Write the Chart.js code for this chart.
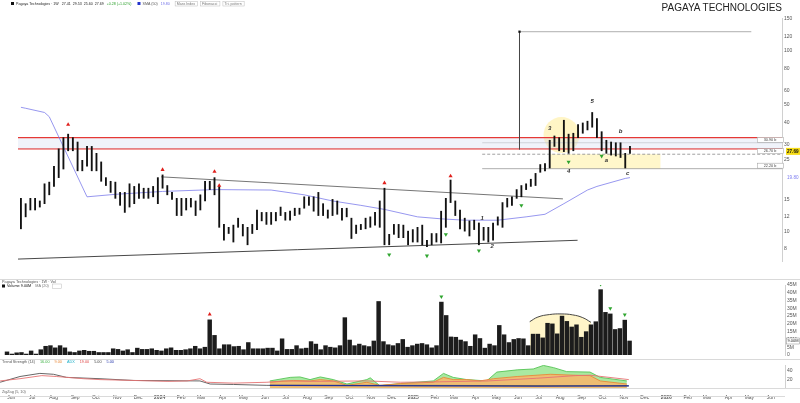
<!DOCTYPE html>
<html>
<head>
<meta charset="utf-8">
<title>Pagaya Technologies</title>
<script src="https://cdn.jsdelivr.net/npm/chart.js@4.4.1/dist/chart.umd.min.js"></script>
<style>
  html, body { margin: 0; padding: 0; background: #fff; overflow: hidden; }
  #wrap { position: relative; width: 800px; height: 403px; overflow: hidden; font-family: Arial, "Liberation Sans", sans-serif; }
  canvas { position: absolute; left: 0; }
  #priceChart { top: 0; }
  #volChart { top: 280px; }
  #indChart { top: 360px; }
  .sep { position: absolute; left: 0; width: 800px; height: 1px; background: #d9d9d9; }
  #title { position: absolute; right: 18px; top: 2px; font-size: 10px; color: #222; }
</style>
</head>
<body>
<div id="wrap">
  <canvas id="priceChart" width="800" height="279"></canvas>
  <div class="sep" style="top:279px"></div>
  <canvas id="volChart" width="800" height="80"></canvas>
  <div class="sep" style="top:359px"></div>
  <canvas id="indChart" width="800" height="43"></canvas>
  <div id="title">PAGAYA TECHNOLOGIES</div>
</div>
<script>
// weekly bars, index 0 = week of 20 May 2023
const weekHigh = [
  15.2, 14.2, 15.2, 15.2, 14.7, 18.3, 18.7, 22.9, 28.6, 33.0,
  34.5, 33.0, 31.2, 24.7, 29.5, 29.5, 27.0, 24.2, 19.8, 18.9,
  18.7, 16.4, 16.4, 18.3, 17.7, 18.3, 17.3, 17.3, 17.7, 19.8,
  20.5, 17.9, 16.4, 15.2, 15.2, 15.2, 15.2, 14.7, 15.9, 18.9,
  18.9, 19.8, 17.7, 10.9, 10.5, 10.8, 11.8, 10.9, 10.5, 10.9,
  13.1, 12.7, 12.7, 12.7, 12.7, 13.6, 12.7, 12.9, 13.4, 13.4,
  15.5, 15.5, 15.5, 16.4, 14.2, 13.1, 15.0, 14.7, 13.4, 13.4,
  11.8, 10.8, 10.9, 11.8, 12.0, 12.7, 14.7, 17.3, 9.6, 10.9,
  10.9, 10.8, 10.0, 10.2, 10.5, 10.8, 8.9, 9.7, 9.7, 12.9,
  15.2, 19.2, 14.7, 13.1, 11.8, 11.4, 11.5, 11.1, 10.5, 10.5,
  11.1, 12.0, 14.4, 15.2, 15.5, 17.0, 17.9, 18.3, 19.4, 20.9,
  23.4, 23.7, 31.9, 33.7, 33.0, 41.2, 34.5, 34.9, 39.0, 39.8,
  40.7, 45.5, 42.1, 35.6, 31.9, 31.2, 30.9, 30.9, 27.0, 29.5
];
const weekLow = [
  10.3, 12.0, 13.1, 13.1, 13.6, 14.2, 15.9, 17.7, 19.8, 22.1,
  27.9, 27.9, 21.6, 21.6, 22.9, 21.6, 21.6, 18.9, 17.9, 16.4,
  15.2, 13.9, 12.7, 13.6, 14.2, 15.2, 15.2, 15.2, 15.5, 14.2,
  17.3, 15.9, 15.0, 12.2, 12.2, 13.1, 13.6, 12.2, 13.1, 14.7,
  17.0, 15.9, 10.5, 8.9, 9.7, 8.7, 10.5, 9.4, 8.4, 9.7,
  10.2, 11.4, 10.9, 10.9, 11.4, 12.2, 11.5, 11.5, 12.2, 12.4,
  13.4, 13.9, 12.9, 12.2, 12.2, 11.8, 12.2, 12.4, 11.5, 12.0,
  9.1, 9.7, 10.2, 10.3, 10.5, 10.8, 10.5, 8.4, 8.4, 9.6,
  9.2, 9.2, 8.4, 8.7, 8.7, 8.4, 8.2, 8.4, 8.7, 8.6,
  10.5, 14.4, 12.2, 10.3, 10.0, 9.4, 10.2, 8.4, 8.9, 8.7,
  8.9, 10.8, 10.5, 13.6, 13.9, 15.2, 15.5, 17.0, 17.7, 17.9,
  21.2, 21.6, 22.4, 29.5, 27.9, 27.6, 27.0, 27.9, 33.0, 34.9,
  36.4, 37.7, 33.0, 27.9, 27.0, 26.4, 26.1, 25.6, 22.4, 27.0
];
// weekly volume, millions
const weekVolume = [
  2.0, 0.6, 1.4, 1.6, 0.6, 2.6, 0.6, 3.4, 5.6, 6.0,
  4.6, 6.0, 4.6, 2.0, 1.6, 2.6, 3.0, 2.4, 2.4, 1.6,
  1.6, 1.6, 4.0, 3.6, 2.6, 3.4, 1.6, 4.4, 3.6, 3.6,
  4.0, 3.0, 2.6, 4.0, 4.6, 3.0, 3.0, 3.4, 4.0, 5.6,
  4.0, 5.0, 22.6, 12.6, 4.0, 6.6, 6.6, 5.4, 5.6, 3.4,
  8.0, 4.0, 4.0, 4.0, 4.4, 4.4, 2.6, 10.4, 3.6, 3.6,
  6.0, 4.0, 4.4, 8.6, 7.0, 3.4, 6.0, 5.0, 4.6, 6.0,
  24.0, 9.6, 6.0, 7.0, 6.0, 5.4, 9.0, 34.4, 8.6, 6.6,
  6.0, 7.4, 10.0, 5.0, 6.0, 7.0, 7.4, 6.6, 4.6, 6.0,
  34.0, 25.4, 11.6, 11.4, 9.6, 8.6, 5.6, 13.0, 10.6, 4.4,
  7.0, 6.0, 19.0, 13.0, 8.0, 10.0, 10.6, 10.4, 6.0, 13.4,
  13.4, 11.0, 20.4, 20.0, 13.6, 25.0, 21.6, 18.0, 19.4, 11.4,
  15.0, 19.4, 21.4, 42.0, 27.4, 26.4, 16.4, 17.0, 22.4, 9.0
];
const lastClose = 27.69;

// moving average (sampled where it bends)
const maWeeks = [0, 1, 5, 6, 14, 20, 30, 41, 53, 60, 66, 72, 77, 84, 89, 94, 101, 107, 111, 115, 120, 122, 128, 129];
const maValues = [48.6, 48.0, 45.5, 43.1, 15.5, 16.0, 16.6, 17.0, 16.9, 15.9, 14.7, 13.9, 13.2, 12.0, 11.7, 11.5, 11.5, 12.0, 12.4, 14.2, 16.9, 17.7, 19.6, 19.8];

// signals
const redMarkWeeks = [10, 30, 41, 42, 77, 91];
const redMarkValues = [39.0, 21.9, 21.4, 17.9, 18.5, 20.2];
const greenMarkWeeks = [78, 86, 90, 97, 106, 116, 123];
const greenMarkValues = [7.4, 7.3, 9.6, 7.8, 13.9, 24.2, 26.1];
const volRedWeeks = [42];
const volGreenWeeks = [90, 123, 125, 128];

// wave count
const waveWeeks = [97.7, 99.8, 112, 116, 121, 124, 127, 128.5];
const waveValues = [11.8, 8.2, 37.3, 21.4, 52.5, 24.7, 35.9, 20.9];
const waveText = ['1', '2', '3', '4', '5', 'a', 'b', 'c'];

// drawn levels
const redLevels = [33.0, 28.6];
const grayLevels = [30.9, 26.7, 22.2];
const grayFrom = 97.7;
const zoneWeeks = [111.8, 135.5];
const zoneValues = [26.7, 22.2];
const upperTrend = { weeks: [29.7, 114.8], values: [20.0, 15.1] };
const lowerTrend = { weeks: [-0.62, 117.9], values: [7.0, 8.9] };
const mmWeek = 105.6, mmFrom = 28.3, mmTop = 127.6, mmEnd = 154.7;
const circleWeek = 114.5, circleValue = 34.1;
const arcWeeks = [108.3, 110, 112.4, 114.8, 117.2, 119.3, 121];
const arcVolume = [21.4, 24.4, 26.0, 26.4, 25.8, 24.0, 21.0];

// lower indicator
const redIdx = [-0.6, 3.5, 8, 11, 16.6, 20, 27, 34, 38, 40.6, 42, 47.5, 54.4, 57.8, 64.7, 75, 82, 90, 100, 110, 118, 121, 129];
const redVal = [16, 21, 28, 26, 21, 19, 17, 15, 16, 21, 13, 11, 13, 16, 15, 16, 13, 14, 16, 22, 28, 29, 19];
const darkIdx = [-0.6, 3.5, 7.6, 10.4, 13.1, 20, 27, 40.6, 42.7, 47.5, 54.4, 82, 129];
const darkVal = [13, 26, 33, 31, 24, 21, 17, 16, 9, 8, 6, 6, 5];
const greenIdx = [55, 59.2, 61.2, 63.3, 65.4, 68.1, 70.9, 75, 75.7, 77.7, 81.9, 88.7, 90.8, 92.8, 95.6, 99.7, 101.8, 106, 109.3, 111.4, 113.5, 116.2, 121, 123.1, 128.6];
const greenVal = [16, 24, 25, 19, 25, 19, 9, 19, 23, 5, 10, 16, 33, 24, 19, 16, 36, 41, 43, 51, 46, 37, 36, 24, 16];
const orangeIdx = [55, 59.9, 63.3, 65.4, 68.1, 70.9, 75, 77.7, 81.9, 88.7, 90.8, 92.8, 95.6, 98.3, 101.1, 106, 112.8, 117.5, 121, 123.1, 128.6];
const orangeVal = [13, 17, 16, 19, 16, 6, 13, 6, 10, 13, 24, 19, 19, 16, 21, 26, 31, 29, 28, 16, 9];
const blueIdx = [55, 90, 110, 129];
const blueVal = [6, 5, 4, 5];

// axes
const priceTicks = [150, 120, 100, 80, 60, 50, 40, 30, 25, 15, 12, 10, 8];
const indTicks = [20, 40];
const tickDates = [
  '2023-06-01', '2023-07-01', '2023-08-01', '2023-09-01', '2023-10-01', '2023-11-01', '2023-12-01',
  '2024-01-01', '2024-02-01', '2024-03-01', '2024-04-01', '2024-05-01', '2024-06-01', '2024-07-01',
  '2024-08-01', '2024-09-01', '2024-10-01', '2024-11-01', '2024-12-01',
  '2025-01-01', '2025-02-01', '2025-03-01', '2025-04-01', '2025-05-01', '2025-06-01', '2025-07-01',
  '2025-08-01', '2025-09-01', '2025-10-01', '2025-11-01', '2025-12-01',
  '2026-01-01', '2026-02-01', '2026-03-01', '2026-04-01', '2026-05-01', '2026-06-01'
];
const tickLabels = [
  'Jun', 'Jul', 'Aug', 'Sep', 'Oct', 'Nov', 'Dec',
  '2024', 'Feb', 'Mar', 'Apr', 'May', 'Jun', 'Jul', 'Aug', 'Sep', 'Oct', 'Nov', 'Dec',
  '2025', 'Feb', 'Mar', 'Apr', 'May', 'Jun', 'Jul', 'Aug', 'Sep', 'Oct', 'Nov', 'Dec',
  '2026', 'Feb', 'Mar', 'Apr', 'May', 'Jun'
];
const xMin = -0.62, xMax = 161.2;

const weekOf = s => (Date.parse(s) - Date.parse('2023-05-20')) / 6048e5;
const pts = (xs, ys) => xs.map((x, k) => ({ x, y: ys[k] }));
const hline = (v, from, to) => [{ x: from, y: v }, { x: to, y: v }];
const tiny = (size, weight) => `${weight || 'normal'} ${size}px Arial`;

const lineDs = (data, color, width, order, extra) => Object.assign({
  type: 'line', data, borderColor: color, borderWidth: width, pointRadius: 0, fill: false, order
}, extra || {});

const xHidden = { type: 'linear', min: xMin, max: xMax, display: false, offset: false };
const rightAxis = extra => Object.assign({
  position: 'right',
  afterFit: s => { s.width = 15; },
  grid: { display: false, drawTicks: false },
  border: { display: true, color: '#d0d0d0' },
  ticks: { font: { size: 5, family: 'Arial' }, color: '#555', padding: 2, autoSkip: false }
}, extra);
const common = {
  responsive: false, animation: false, events: [], devicePixelRatio: 1,
  plugins: { legend: { display: false }, tooltip: { enabled: false } }
};

// writes coloured text pieces one after another
function textRow(ctx, x0, y0, parts) {
  let px = x0;
  parts.forEach(([t, c, gap]) => {
    ctx.fillStyle = c;
    ctx.fillText(t, px, y0);
    px += ctx.measureText(t).width + (gap === undefined ? 3 : gap);
  });
  return px;
}

// text on the price panel
const priceText = {
  id: 'priceText',
  afterDraw(chart) {
    const { ctx, scales: { x, y } } = chart;
    ctx.save();
    ctx.textBaseline = 'middle';
    // header
    ctx.fillStyle = '#111';
    ctx.fillRect(11, 2, 3, 3);
    ctx.font = tiny(3.6);
    let px = textRow(ctx, 16, 3.6, [
      ['Pagaya Technologies · 1W', '#222'], ['27.41  29.53  25.60  ' + lastClose.toFixed(2), '#222'],
      ['+0.28 (+1.02%)', '#2ca02c', 6]
    ]);
    ctx.fillStyle = '#2233cc';
    ctx.fillRect(px, 2, 3, 3);
    px = textRow(ctx, px + 5, 3.6, [['SMA (50)', '#555'], [maValues[maValues.length - 1].toFixed(2), '#6f6fe8', 5]]);
    ctx.strokeStyle = '#bbb';
    ctx.lineWidth = 0.5;
    ['Mass Index', 'Fibonacci', 'Tri. pattern'].forEach(t => {
      const w = ctx.measureText(t).width + 4;
      ctx.strokeRect(px + 0.5, 1.5, w, 4.5);
      ctx.fillStyle = '#777';
      ctx.fillText(t, px + 2, 3.8);
      px += w + 3;
    });
    // wave count
    ctx.font = 'italic ' + tiny(6, 'bold');
    ctx.fillStyle = '#333';
    ctx.textAlign = 'center';
    waveWeeks.forEach((w, k) => ctx.fillText(waveText[k], x.getPixelForValue(w), y.getPixelForValue(waveValues[k])));
    // level boxes
    ctx.font = tiny(3.8);
    grayLevels.forEach(v => {
      const py = y.getPixelForValue(v);
      ctx.fillStyle = '#fff';
      ctx.fillRect(757, py - 5.5, 26, 5);
      ctx.strokeStyle = '#999';
      ctx.strokeRect(757.5, py - 5.5, 26, 5);
      ctx.fillStyle = '#444';
      ctx.fillText(v.toFixed(2) + ' b', 770, py - 2.9);
    });
    // last price and average on the axis
    const pc = y.getPixelForValue(lastClose);
    ctx.fillStyle = '#f6dc16';
    ctx.fillRect(786, pc - 3.5, 14, 7);
    ctx.fillStyle = '#111';
    ctx.font = tiny(4.6, 'bold');
    ctx.textAlign = 'left';
    ctx.fillText(lastClose.toFixed(2), 787, pc + 0.2);
    const maLast = maValues[maValues.length - 1];
    ctx.fillStyle = '#7d7df0';
    ctx.font = tiny(4.6);
    ctx.fillText(maLast.toFixed(2), 787, y.getPixelForValue(maLast));
    ctx.restore();
  }
};

new Chart(document.getElementById('priceChart'), {
  type: 'bar',
  data: {
    datasets: [
      { type: 'scatter', data: pts(redMarkWeeks, redMarkValues), pointStyle: 'triangle', pointRadius: 2.4,
        pointBackgroundColor: '#e0201c', pointBorderWidth: 0, order: 0 },
      { type: 'scatter', data: pts(greenMarkWeeks, greenMarkValues), pointStyle: 'triangle', pointRotation: 180,
        pointRadius: 2.4, pointBackgroundColor: '#2fa52f', pointBorderWidth: 0, order: 0 },
      { type: 'scatter', data: [{ x: mmWeek, y: mmTop }], pointStyle: 'rect', pointRadius: 1.6,
        pointBackgroundColor: '#111', pointBorderWidth: 0, order: 0 },
      { data: weekHigh.map((h, i) => ({ x: i, y: [weekLow[i], h] })), backgroundColor: '#111',
        barThickness: 1.2, order: 1 },
      lineDs(pts(maWeeks, maValues), 'rgba(125,125,235,0.8)', 1, 2),
      lineDs(pts(upperTrend.weeks, upperTrend.values), '#666', 0.9, 2),
      lineDs(pts(lowerTrend.weeks, lowerTrend.values), '#333', 0.9, 2),
      lineDs([{ x: mmWeek, y: mmFrom }, { x: mmWeek, y: mmTop }], '#444', 1, 2),
      lineDs(hline(mmTop, mmWeek, mmEnd), '#999', 0.8, 2),
      lineDs(hline(redLevels[0], xMin, xMax), '#e53935', 1.1, 4,
        { fill: { target: { value: redLevels[1] } }, backgroundColor: 'rgba(205,215,240,0.3)' }),
      lineDs(hline(redLevels[1], xMin, xMax), '#e53935', 1.1, 4),
      lineDs(hline(grayLevels[0], grayFrom, xMax), '#c4c4c4', 0.8, 4),
      lineDs(hline(grayLevels[1], grayFrom, xMax), '#888', 0.8, 4, { borderDash: [3, 2] }),
      lineDs(hline(grayLevels[2], grayFrom, xMax), '#999', 0.8, 4),
      lineDs(hline(zoneValues[0], zoneWeeks[0], zoneWeeks[1]), 'rgba(0,0,0,0)', 0, 6,
        { fill: { target: { value: zoneValues[1] } }, backgroundColor: 'rgba(255,240,160,0.55)' }),
      { type: 'scatter', data: [{ x: circleWeek, y: circleValue }], pointRadius: 18,
        pointBackgroundColor: 'rgba(255,236,140,0.5)', pointBorderWidth: 0, order: 6 }
    ]
  },
  options: Object.assign({}, common, {
    layout: { padding: 0 },
    scales: {
      x: xHidden,
      y: rightAxis({
        type: 'logarithmic', min: 6.83, max: 152,
        afterBuildTicks: s => { s.ticks = priceTicks.map(v => ({ value: v })); },
        ticks: { font: { size: 5, family: 'Arial' }, color: '#555', padding: 2, autoSkip: false, callback: v => String(v) }
      })
    }
  }),
  plugins: [priceText]
});

// volume panel
const volText = {
  id: 'volText',
  afterDraw(chart) {
    const { ctx, scales: { y } } = chart;
    ctx.save();
    ctx.textBaseline = 'middle';
    ctx.font = tiny(3.8);
    ctx.fillStyle = '#555';
    ctx.fillText('Pagaya Technologies · 1W · Vol', 2, 1.8);
    ctx.fillStyle = '#111';
    ctx.fillRect(2, 4.5, 3, 3);
    const lastVol = weekVolume[weekVolume.length - 1];
    const px = textRow(ctx, 7, 6.2, [['Volume ' + lastVol.toFixed(2) + 'M', '#111', 4], ['MA (20)', '#777']]);
    ctx.strokeStyle = '#bbb';
    ctx.lineWidth = 0.5;
    ctx.strokeRect(px + 0.5, 4, 9, 4.5);
    const pv = y.getPixelForValue(lastVol);
    ctx.fillStyle = '#fff';
    ctx.fillRect(786, pv - 3, 14, 6);
    ctx.strokeStyle = '#888';
    ctx.strokeRect(786.5, pv - 3, 13, 6);
    ctx.fillStyle = '#222';
    ctx.font = tiny(4);
    ctx.fillText(lastVol.toFixed(2) + 'M', 787.5, pv);
    ctx.restore();
  }
};

new Chart(document.getElementById('volChart'), {
  type: 'bar',
  data: {
    datasets: [
      { type: 'scatter', data: volRedWeeks.map(w => ({ x: w, y: weekVolume[w] + 3.5 })), pointStyle: 'triangle',
        pointRadius: 2.3, pointBackgroundColor: '#e0201c', pointBorderWidth: 0, order: 0 },
      { type: 'scatter', data: volGreenWeeks.map(w => ({ x: w, y: weekVolume[w] + 3.5 })), pointStyle: 'triangle',
        pointRotation: 180, pointRadius: 2.3, pointBackgroundColor: '#2fa52f', pointBorderWidth: 0, order: 0 },
      { data: weekVolume.map((v, i) => ({ x: i, y: v })), backgroundColor: '#1c1c1c', barThickness: 3.8, order: 1 },
      lineDs(pts(arcWeeks, arcVolume), '#333', 0.9, 3,
        { tension: 0.45, fill: 'origin', backgroundColor: 'rgba(255,238,165,0.6)' })
    ]
  },
  options: Object.assign({}, common, {
    layout: { padding: { top: 3, bottom: 2, left: 0, right: 0 } },
    scales: {
      x: xHidden,
      y: rightAxis({
        type: 'linear', min: 0, max: 45,
        ticks: { font: { size: 5, family: 'Arial' }, color: '#555', padding: 2, autoSkip: false, stepSize: 5,
          callback: v => (v ? v + 'M' : '0') }
      })
    }
  }),
  plugins: [volText]
});

// indicator panel and date axis
const indText = {
  id: 'indText',
  afterDraw(chart) {
    const { ctx, chartArea } = chart;
    ctx.save();
    ctx.textBaseline = 'middle';
    ctx.font = tiny(3.8);
    textRow(ctx, 2, 1.8, [
      ['Trend Strength (14)', '#555', 5], [greenVal[greenVal.length - 1].toFixed(2), '#3cb043', 5],
      [orangeVal[orangeVal.length - 1].toFixed(2), '#e8893a', 5], ['ADX', '#20b0c8', 5],
      [redVal[redVal.length - 1].toFixed(2), '#e04848', 5], [darkVal[darkVal.length - 1].toFixed(2), '#444', 5],
      [blueVal[blueVal.length - 1].toFixed(2), '#2233aa', 5]
    ]);
    ctx.strokeStyle = '#dadada';
    ctx.lineWidth = 1;
    ctx.beginPath();
    ctx.moveTo(0, chartArea.bottom + 0.5);
    ctx.lineTo(800, chartArea.bottom + 0.5);
    ctx.moveTo(0, chartArea.bottom + 8.5);
    ctx.lineTo(785, chartArea.bottom + 8.5);
    ctx.stroke();
    ctx.fillStyle = '#666';
    ctx.fillText('ZigZag (5, 10)', 2, chartArea.bottom + 3.5);
    ctx.restore();
  }
};

new Chart(document.getElementById('indChart'), {
  type: 'line',
  data: {
    datasets: [
      lineDs(pts(blueIdx, blueVal), '#1f2f9a', 1.2, 0),
      lineDs(pts(redIdx, redVal), '#e57373', 0.9, 1),
      lineDs(pts(darkIdx, darkVal), '#555', 0.9, 1),
      lineDs(pts(orangeIdx, orangeVal), '#e8893a', 0.9, 2, { fill: 'origin', backgroundColor: 'rgba(246,184,110,0.9)' }),
      lineDs(pts(greenIdx, greenVal), '#55c455', 0.9, 3, { fill: 'origin', backgroundColor: 'rgba(140,226,130,0.75)' })
    ]
  },
  options: Object.assign({}, common, {
    layout: { padding: { top: 2, bottom: 0, left: 0, right: 0 } },
    scales: {
      x: {
        type: 'linear', min: xMin, max: xMax, offset: false, position: 'bottom',
        afterFit: s => { s.height = 15; },
        afterBuildTicks: s => { s.ticks = tickDates.map(d => ({ value: weekOf(d) })); },
        grid: { display: false, drawTicks: false },
        border: { display: false },
        ticks: {
          autoSkip: false, maxRotation: 0, padding: 7, color: '#555',
          font: c => ({ size: 5, family: 'Arial', weight: /^\d{4}$/.test(c.tick && c.tick.label) ? 'bold' : 'normal' }),
          callback: (v, k) => tickLabels[k]
        }
      },
      y: rightAxis({
        type: 'linear', min: 0, max: 52,
        afterBuildTicks: s => { s.ticks = indTicks.map(v => ({ value: v })); },
        ticks: { font: { size: 5, family: 'Arial' }, color: '#555', padding: 2, autoSkip: false, callback: v => String(v) }
      })
    }
  }),
  plugins: [indText]
});
</script>
</body>
</html>
